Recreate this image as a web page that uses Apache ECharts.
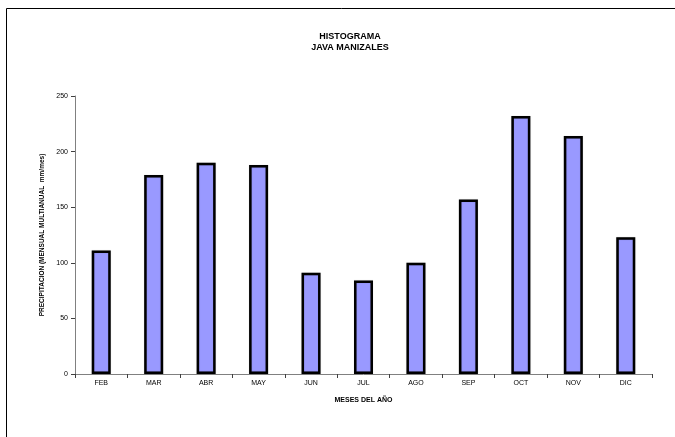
<!DOCTYPE html>
<html>
<head>
<meta charset="utf-8">
<script src="https://cdn.jsdelivr.net/npm/echarts@6/dist/echarts.min.js"></script>
<style>
  html, body { margin: 0; padding: 0; background: #fff; }
  #chart { width: 675px; height: 437px; }
</style>
</head>
<body>
<div id="chart"></div>
<script>
// Monthly precipitation, Java station (Manizales)
const months = ['FEB', 'MAR', 'ABR', 'MAY', 'JUN', 'JUL', 'AGO', 'SEP', 'OCT', 'NOV', 'DIC'];
const precipitation = [111, 179, 190, 188, 91, 84, 100, 157, 232, 214, 123];
const yTicks = [0, 50, 100, 150, 200, 250];

const FONT = '"Liberation Sans", Arial, sans-serif';
const chart = echarts.init(document.getElementById('chart'), null, { renderer: 'canvas' });

chart.setOption({
  animation: false,
  backgroundColor: '#ffffff',
  graphic: [{
    type: 'rect',
    shape: { x: 6.5, y: 8.5, width: 720, height: 480 },
    style: { fill: 'none', stroke: '#000', lineWidth: 1 },
    silent: true
  }],
  title: {
    text: 'HISTOGRAMA\nJAVA MANIZALES',
    left: 345,
    top: 26,
    textAlign: 'center',
    textStyle: { fontFamily: FONT, fontSize: 9, fontWeight: 'bold', color: '#000', lineHeight: 11 }
  },
  grid: { left: 75, right: 23, top: 96, bottom: 63, containLabel: false },
  xAxis: {
    type: 'category',
    data: months,
    boundaryGap: true,
    name: 'MESES DEL AÑO',
    nameLocation: 'middle',
    nameGap: 23,
    nameTextStyle: { fontFamily: FONT, fontSize: 7, fontWeight: 'bold', color: '#000' },
    axisLine: { lineStyle: { color: '#808080', width: 1 } },
    axisTick: { show: true, alignWithLabel: false, length: 4, lineStyle: { color: '#404040' } },
    axisLabel: { fontFamily: FONT, fontSize: 7, color: '#000', margin: 6 }
  },
  yAxis: {
    type: 'value',
    min: yTicks[0],
    max: yTicks[yTicks.length - 1],
    interval: yTicks[1] - yTicks[0],
    name: 'PRECIPITACION (MENSUAL MULTIANUAL  mm/mes)',
    nameLocation: 'middle',
    nameGap: 22,
    nameRotate: 90,
    nameTextStyle: { fontFamily: FONT, fontSize: 6.5, fontWeight: 'bold', color: '#000' },
    axisLine: { show: true, lineStyle: { color: '#808080', width: 1 } },
    axisTick: { show: true, length: 4, lineStyle: { color: '#404040' } },
    axisLabel: { fontFamily: FONT, fontSize: 7, color: '#000', margin: 7 },
    splitLine: { show: false }
  },
  series: [{
    type: 'bar',
    data: precipitation,
    barWidth: 19,
    itemStyle: {
      color: '#9999ff',
      borderColor: '#000',
      borderWidth: 2.5,
      shadowColor: 'rgba(0,0,0,0.25)',
      shadowBlur: 1
    }
  }]
});
</script>
</body>
</html>
